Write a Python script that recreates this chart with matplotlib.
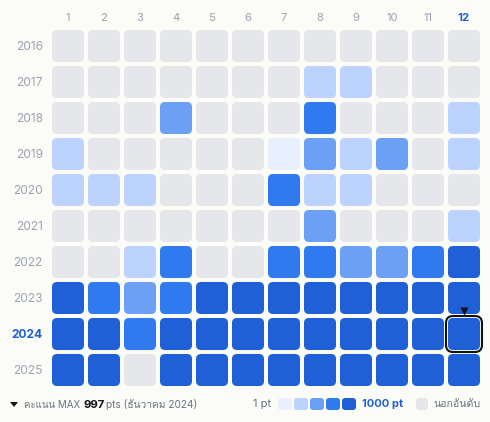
import matplotlib
matplotlib.use("Agg")
import matplotlib.pyplot as plt
from matplotlib import font_manager as fm
from matplotlib.patches import FancyBboxPatch, Polygon
from matplotlib.transforms import Affine2D
from matplotlib.ft2font import FT2Font

years = [2016, 2017, 2018, 2019, 2020, 2021, 2022, 2023, 2024, 2025]
months = list(range(1, 13))
# colour level per year and month: 0 = outside the ranking, 1..5 = points bucket
levels = [
    [0, 0, 0, 0, 0, 0, 0, 0, 0, 0, 0, 0],
    [0, 0, 0, 0, 0, 0, 0, 2, 2, 0, 0, 0],
    [0, 0, 0, 3, 0, 0, 0, 4, 0, 0, 0, 2],
    [2, 0, 0, 0, 0, 0, 1, 3, 2, 3, 0, 2],
    [2, 2, 2, 0, 0, 0, 4, 2, 2, 0, 0, 0],
    [0, 0, 0, 0, 0, 0, 0, 3, 0, 0, 0, 2],
    [0, 0, 2, 4, 0, 0, 4, 4, 3, 3, 4, 5],
    [5, 4, 3, 4, 5, 5, 5, 5, 5, 5, 5, 5],
    [5, 5, 4, 5, 5, 5, 5, 5, 5, 5, 5, 5],
    [5, 5, 0, 5, 5, 5, 5, 5, 5, 5, 5, 5],
]
palette = ["#E5E7EB", "#E8F0FE", "#BBD3FD", "#6BA0F5", "#2F7AEE", "#1F60D6"]
selected_year, selected_month = 2024, 12
BG = "#FBFBF8"
GREY = "#9CA3AF"
BLUE = "#1F60D6"

# find a font with Thai coverage, if any
thai = None
for f in fm.fontManager.ttflist:
    try:
        if 0x0E04 in FT2Font(f.fname).get_charmap():
            thai = f.name
            break
    except Exception:
        pass
plt.rcParams["font.family"] = ["Inter"] + ([thai] if thai else []) + ["DejaVu Sans"]

W, H = 490, 422
fig = plt.figure(figsize=(W / 100, H / 100), dpi=100, facecolor=BG)
PITCH = 36
L, T = 50, 28
ax = fig.add_axes([L / W, 1 - (T + 10 * PITCH) / H, 12 * PITCH / W, 10 * PITCH / H])
ax.set_xlim(0, 12)
ax.set_ylim(10, 0)
ax.set_facecolor("none")
for s in ax.spines.values():
    s.set_visible(False)
size = 32 / PITCH
gap = (1 - size) / 2
for r, row in enumerate(levels):
    for c, lv in enumerate(row):
        ax.add_patch(FancyBboxPatch((c + gap, r + gap), size, size,
                                    boxstyle=f"round,pad=0,rounding_size={5 / PITCH}",
                                    fc=palette[lv], ec="none"))
ax.set_xticks([m - 0.5 for m in months])
ax.set_xticklabels(months)
ax.set_yticks([i + 0.5 for i in range(len(years))])
ax.set_yticklabels(years)
ax.xaxis.tick_top()
ax.tick_params(axis="both", length=0)
ax.tick_params(axis="x", pad=3.8, labelsize=8.2, labelcolor=GREY)
ax.tick_params(axis="y", pad=5.2, labelsize=8.6, labelcolor=GREY)
for lab, m in zip(ax.get_xticklabels(), months):
    if m == selected_month:
        lab.set_color(BLUE)
        lab.set_fontweight("bold")
for lab, y in zip(ax.get_yticklabels(), years):
    if y == selected_year:
        lab.set_color(BLUE)
        lab.set_fontweight("bold")

# selected cell ring and marker
sc = selected_month - 1
sr = years.index(selected_year)
e = 2 / PITCH
ax.add_patch(FancyBboxPatch((sc + gap - e, sr + gap - e), size + 2 * e, size + 2 * e,
                            boxstyle=f"round,pad=0,rounding_size={7 / PITCH}",
                            fc="none", ec="#111318", lw=1.5, clip_on=False))
ax.plot([sc + 0.5], [sr - 5.5 / PITCH], marker="v", ms=5.6, mfc="#111318", mec="none", clip_on=False)

# footer in pixel coordinates
px = Affine2D().scale(1, -1).translate(0, H)
def t(x, y, s, **kw):
    kw.setdefault("fontsize", 7.4)
    kw.setdefault("color", "#6B7280")
    kw.setdefault("va", "center")
    return fig.text(x / W, 1 - y / H, s, **kw)

fig.add_artist(Polygon([(10, 402), (18, 402), (14, 407)], closed=True, fc="#111318", ec="none", transform=px))
t(24, 404.5, "คะแนน MAX", fontsize=7.0)
t(83.5, 404.5, "997", color="#111318", fontweight="bold", fontsize=8.2)
t(106, 404.5, "pts (ธันวาคม 2024)", fontsize=7.3)
t(271, 404, "1 pt", ha="right", fontsize=8)
for i in range(1, 6):
    fig.add_artist(FancyBboxPatch((278 + (i - 1) * 16, 398), 14, 12,
                                  boxstyle="round,pad=0,rounding_size=3",
                                  fc=palette[i], ec="none", transform=px))
t(362, 404, "1000 pt", color=BLUE, fontweight="bold", fontsize=8)
fig.add_artist(FancyBboxPatch((416, 398), 12, 12, boxstyle="round,pad=0,rounding_size=3",
                              fc=palette[0], ec="none", transform=px))
t(433, 404, "นอกอันดับ", fontsize=7.6)
fig.savefig("out.png", dpi=100, facecolor=BG)
